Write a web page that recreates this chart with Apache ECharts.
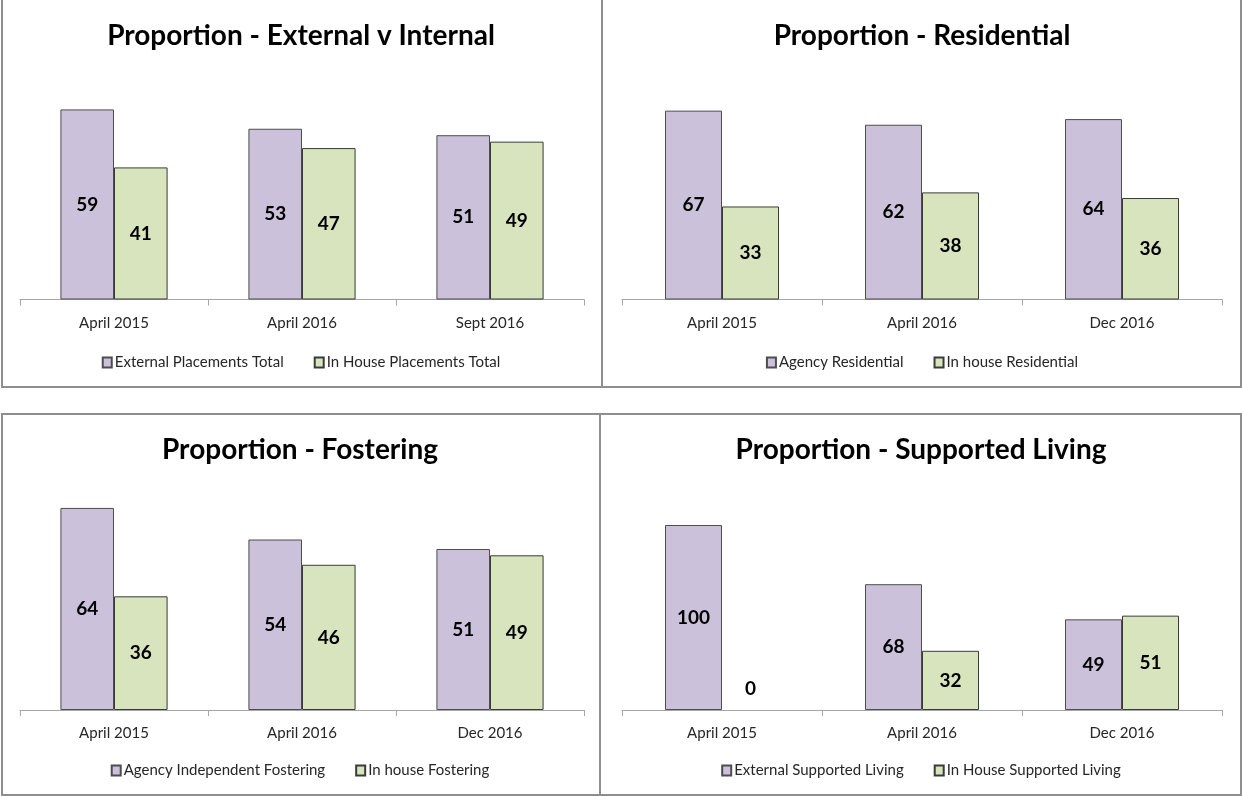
<!DOCTYPE html>
<html>
<head>
<meta charset="utf-8">
<script src="https://cdn.jsdelivr.net/npm/echarts@6/dist/echarts.min.js"></script>
<style>
  html, body { margin: 0; padding: 0; background: #fff; }
  #page { position: relative; width: 1242px; height: 796px; overflow: hidden; }
  .panel { position: absolute; }
  .rule { position: absolute; background: #8e8e8e; }
</style>
</head>
<body>
<div id="page">
  <div id="pA" class="panel" style="left:0;top:0;width:602px;height:387px;"></div>
  <div id="pB" class="panel" style="left:602px;top:0;width:640px;height:387px;"></div>
  <div id="pC" class="panel" style="left:0;top:414px;width:600px;height:382px;"></div>
  <div id="pD" class="panel" style="left:600px;top:414px;width:642px;height:382px;"></div>

  <!-- panel frames -->
  <div class="rule" style="left:1px;top:0;width:2px;height:388px;"></div>
  <div class="rule" style="left:601px;top:0;width:2px;height:388px;"></div>
  <div class="rule" style="left:1240px;top:0;width:2px;height:388px;"></div>
  <div class="rule" style="left:1px;top:386px;width:1241px;height:2px;"></div>
  <div class="rule" style="left:1px;top:413px;width:1241px;height:2px;"></div>
  <div class="rule" style="left:1px;top:413px;width:2px;height:383px;"></div>
  <div class="rule" style="left:599px;top:413px;width:2px;height:383px;"></div>
  <div class="rule" style="left:1240px;top:413px;width:2px;height:383px;"></div>
  <div class="rule" style="left:1px;top:794px;width:1241px;height:2px;"></div>
</div>
<script>
// Proportion of placements by provider type (%)
const titleA = 'Proportion - External v Internal';
const categoriesA = ['April 2015', 'April 2016', 'Sept 2016'];
const seriesNamesA = ['External Placements Total', 'In House Placements Total'];
const externalA = [59, 53, 51];
const inHouseA = [41, 47, 49];

const titleB = 'Proportion - Residential';
const categoriesB = ['April 2015', 'April 2016', 'Dec 2016'];
const seriesNamesB = ['Agency Residential', 'In house Residential'];
const agencyB = [67, 62, 64];
const inHouseB = [33, 38, 36];

const titleC = 'Proportion - Fostering';
const categoriesC = ['April 2015', 'April 2016', 'Dec 2016'];
const seriesNamesC = ['Agency Independent Fostering', 'In house Fostering'];
const agencyC = [64, 54, 51];
const inHouseC = [36, 46, 49];

const titleD = 'Proportion - Supported Living';
const categoriesD = ['April 2015', 'April 2016', 'Dec 2016'];
const seriesNamesD = ['External Supported Living', 'In House Supported Living'];
const externalD = [100, 68, 49];
const inHouseD = [0, 32, 51];

const FONT = 'Lato, "Open Sans", sans-serif';
const PURPLE = '#ccc1da';
const GREEN = '#d7e4bd';

function toItems(values) {
  // an empty bar keeps its label just above the axis and draws no outline
  return values.map(v => v === 0
    ? { value: v, itemStyle: { borderWidth: 0 }, label: { position: 'top', distance: 12 } }
    : v);
}

function makeSeries(name, values, color, border) {
  return {
    name: name,
    type: 'bar',
    data: toItems(values),
    barGap: '0%',
    barCategoryGap: '43%',
    itemStyle: { color: color, borderColor: border, borderWidth: 1 },
    label: {
      show: true,
      position: 'inside',
      color: '#000',
      fontFamily: FONT,
      fontWeight: 'bold',
      fontSize: 19
    },
    emphasis: { disabled: true },
    animation: false
  };
}

function build(el, cfg) {
  const chart = echarts.init(document.getElementById(el), null, { renderer: 'canvas' });
  chart.setOption({
    animation: false,
    title: {
      text: cfg.title,
      left: 'center',
      top: 17,
      textStyle: { fontFamily: FONT, fontWeight: 'bold', fontSize: 28, color: '#000' }
    },
    legend: {
      data: cfg.names,
      left: 'center',
      top: cfg.legendTop,
      icon: 'rect',
      itemWidth: 9,
      itemHeight: 10,
      itemGap: 30,
      selectedMode: false,
      textStyle: { fontFamily: FONT, fontSize: 15, color: '#262626', padding: [0, 0, 0, -2] }
    },
    grid: cfg.grid,
    xAxis: {
      type: 'category',
      data: cfg.categories,
      axisLine: { lineStyle: { color: '#a6a6a6', width: 1 } },
      axisTick: { show: true, length: 6, lineStyle: { color: '#a6a6a6' } },
      axisLabel: { fontFamily: FONT, fontSize: 15, color: '#262626', margin: 16 }
    },
    yAxis: {
      type: 'value',
      min: 0,
      max: cfg.max,
      show: false,
      splitLine: { show: false }
    },
    series: [
      makeSeries(cfg.names[0], cfg.first, PURPLE, '#4d4d4d'),
      makeSeries(cfg.names[1], cfg.second, GREEN, '#3a3a3a')
    ]
  });
}

build('pA', {
  title: titleA, names: seriesNamesA, categories: categoriesA,
  first: externalA, second: inHouseA, max: 70, legendTop: 350,
  grid: { left: 20, right: 18, top: 74, bottom: 87.5 }
});
build('pB', {
  title: titleB, names: seriesNamesB, categories: categoriesB,
  first: agencyB, second: inHouseB, max: 80, legendTop: 350,
  grid: { left: 20, right: 20, top: 74, bottom: 87.5 }
});
build('pC', {
  title: titleC, names: seriesNamesC, categories: categoriesC,
  first: agencyC, second: inHouseC, max: 70, legendTop: 344,
  grid: { left: 20, right: 16, top: 75, bottom: 86 }
});
build('pD', {
  title: titleD, names: seriesNamesD, categories: categoriesD,
  first: externalD, second: inHouseD, max: 120, legendTop: 344,
  grid: { left: 22, right: 20, top: 74, bottom: 86 }
});
</script>
</body>
</html>
